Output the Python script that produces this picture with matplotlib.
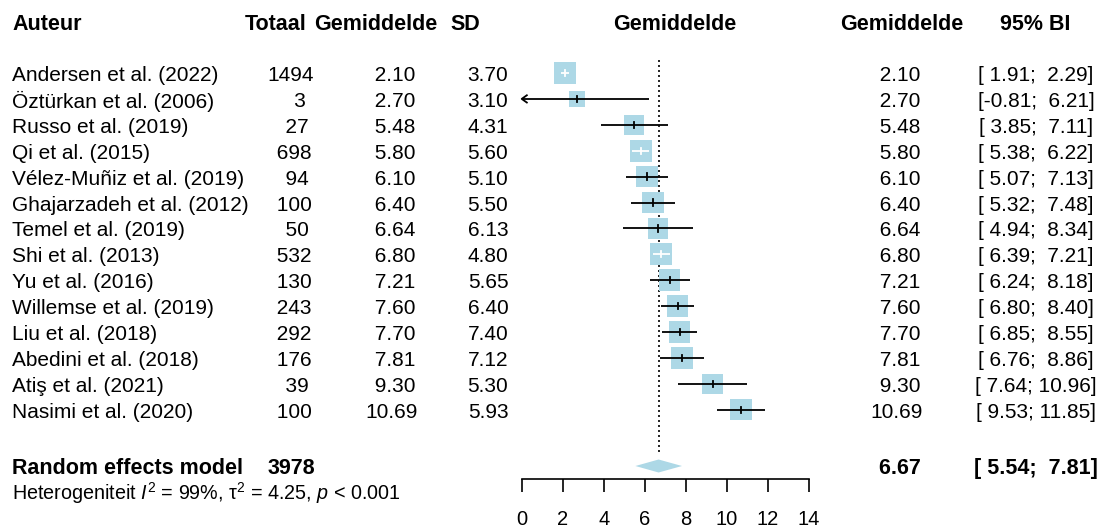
import matplotlib

matplotlib.use("Agg")
import matplotlib.pyplot as plt
import matplotlib.transforms as mtransforms
from matplotlib.patches import Rectangle, Polygon
import numpy as np

# Study data
authors = [
    "Andersen et al. (2022)", "Öztürkan et al. (2006)", "Russo et al. (2019)",
    "Qi et al. (2015)", "Vélez-Muñiz et al. (2019)", "Ghajarzadeh et al. (2012)",
    "Temel et al. (2019)", "Shi et al. (2013)", "Yu et al. (2016)",
    "Willemse et al. (2019)", "Liu et al. (2018)", "Abedini et al. (2018)",
    "Atiş et al. (2021)", "Nasimi et al. (2020)",
]
totaal = [1494, 3, 27, 698, 94, 100, 50, 532, 130, 243, 292, 176, 39, 100]
means = [2.10, 2.70, 5.48, 5.80, 6.10, 6.40, 6.64, 6.80, 7.21, 7.60, 7.70, 7.81, 9.30, 10.69]
sds = [3.70, 3.10, 4.31, 5.60, 5.10, 5.50, 6.13, 4.80, 5.65, 6.40, 7.40, 7.12, 5.30, 5.93]
ci_low = [1.91, -0.81, 3.85, 5.38, 5.07, 5.32, 4.94, 6.39, 6.24, 6.80, 6.85, 6.76, 7.64, 9.53]
ci_high = [2.29, 6.21, 7.11, 6.22, 7.13, 7.48, 8.34, 7.21, 8.18, 8.40, 8.55, 8.86, 10.96, 11.85]

# Random effects summary
re_total = 3978
re_mean, re_low, re_high = 6.67, 5.54, 7.81
i2, tau2, pval = 99, 4.25, "< 0.001"

xticks = [0, 2, 4, 6, 8, 10, 12, 14]

plt.rcParams["font.family"] = ["Liberation Sans", "DejaVu Sans"]
plt.rcParams["mathtext.fontset"] = "custom"
plt.rcParams["mathtext.rm"] = "Liberation Sans"
plt.rcParams["mathtext.it"] = "Liberation Sans:italic"

W, H = 1100, 529
fig = plt.figure(figsize=(11, 5.29), dpi=100)
ax = fig.add_axes([0, 0, 1, 1])
ax.patch.set_visible(False)

# pixel layout -> data units
x0_px, x14_px = 521.7, 809.0
upp = 14 / (x14_px - x0_px)  # x units per pixel
row0_px, row_h = 73.0, 25.9  # y of first row and row spacing (pixels)
ax.set_xlim(-x0_px * upp, (W - x0_px) * upp)
ax.set_ylim(1 + (H - row0_px) / row_h, 1 + (0 - row0_px) / row_h)


def row_of(px):
    return 1 + (px - row0_px) / row_h


tr = mtransforms.blended_transform_factory(fig.transFigure, ax.transData)
fs, fsb = 15, 15.5
box_col = "#add8e6"
dy = 0.1  # text sits a touch lower than the boxes

# header row
y_head = row_of(22) + dy
for txt, xpx, ha in [("Auteur", 12, "left"), ("Totaal", 276, "center"),
                     ("Gemiddelde", 375.5, "center"), ("SD", 465.5, "center"),
                     ("Gemiddelde", 674.5, "center"), ("Gemiddelde", 901.5, "center"),
                     ("95% BI", 1035.5, "center")]:
    ax.text(xpx / W, y_head, txt, transform=tr, ha=ha, va="center",
            fontsize=fsb, fontweight="bold")

# reference line at the pooled mean
ax.plot([re_mean, re_mean], [row_of(60), row_of(455)], color="black",
        lw=1.2, linestyle=(0, (1.2, 1.8)), zorder=1)

# random effects weights -> box sizes
w = 1 / (np.array(sds) ** 2 / np.array(totaal) + tau2)
side_px = 22 * np.sqrt(w / w.max())

for i, name in enumerate(authors):
    y = i + 1
    yt = y + dy
    ax.text(12 / W, yt, name, transform=tr, ha="left", va="center", fontsize=fs)
    ax.text(291 / W, yt, f"{totaal[i]:>4}", transform=tr, ha="center", va="center", fontsize=fs)
    ax.text(392 / W, yt, f"{means[i]:5.2f}", transform=tr, ha="center", va="center", fontsize=fs)
    ax.text(488 / W, yt, f"{sds[i]:.2f}", transform=tr, ha="center", va="center", fontsize=fs)
    ax.text(897 / W, yt, f"{means[i]:5.2f}", transform=tr, ha="center", va="center", fontsize=fs)
    ax.text(1036 / W, yt, f"[{ci_low[i]:5.2f}; {ci_high[i]:5.2f}]", transform=tr,
            ha="center", va="center", fontsize=fs)

    bw = side_px[i] * upp
    bh = side_px[i] / row_h
    ax.add_patch(Rectangle((means[i] - bw / 2, y - bh / 2), bw, bh,
                           facecolor=box_col, edgecolor="none", zorder=2))
    lo = max(ci_low[i], 0)
    inside = (ci_high[i] - ci_low[i]) < bw
    lc = "white" if inside else "black"
    ax.plot([lo, ci_high[i]], [y, y], color=lc, lw=1.3, zorder=3, solid_capstyle="butt")
    ax.plot([means[i], means[i]], [y - 0.12, y + 0.12], color=lc, lw=1.3, zorder=3)
    if ci_low[i] < 0:
        ax.plot([0.25, 0, 0.25], [y - 0.14, y, y + 0.14], color="black", lw=1.3, zorder=3)

# summary row
y_s = row_of(466)
dh = 6.5 / row_h
ax.add_patch(Polygon([(re_low, y_s), (re_mean, y_s - dh), (re_high, y_s), (re_mean, y_s + dh)],
                     closed=True, facecolor=box_col, edgecolor="none", zorder=2))
ax.text(12 / W, y_s + dy, "Random effects model", transform=tr, ha="left", va="center",
        fontsize=fsb, fontweight="bold")
ax.text(291 / W, y_s + dy, f"{re_total:>4}", transform=tr, ha="center", va="center",
        fontsize=fsb, fontweight="bold")
ax.text(897 / W, y_s + dy, f"{re_mean:5.2f}", transform=tr, ha="center", va="center",
        fontsize=fsb, fontweight="bold")
ax.text(1036 / W, y_s + dy, f"[{re_low:5.2f}; {re_high:5.2f}]", transform=tr, ha="center",
        va="center", fontsize=fsb, fontweight="bold")
ax.text(12 / W, row_of(493), f"Heterogeniteit $I^2$ = {i2}%, τ$^2$ = {tau2:.2f}, $p$ {pval}",
        transform=tr, ha="left", va="center", fontsize=14.2)

# x axis
for s in ["left", "right", "top"]:
    ax.spines[s].set_visible(False)
ax.spines["bottom"].set_position(("data", row_of(479)))
ax.spines["bottom"].set_bounds(0, 14)
ax.spines["bottom"].set_linewidth(1.2)
ax.set_xticks(xticks)
ax.set_yticks([])
ax.tick_params(axis="x", direction="out", length=9.4, width=1.2, pad=13, labelsize=14.5)

fig.savefig("out.png", dpi=100)
